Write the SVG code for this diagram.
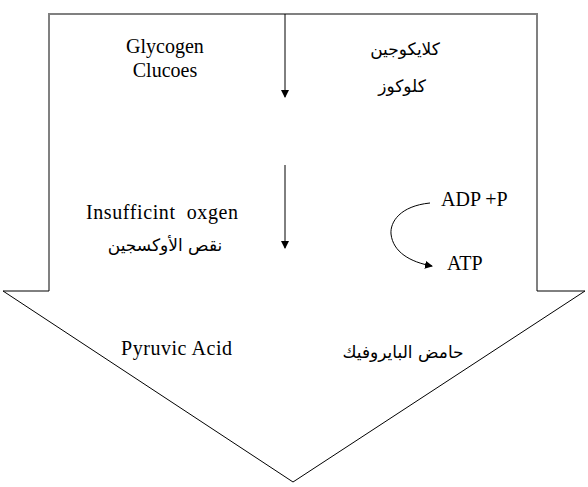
<svg xmlns="http://www.w3.org/2000/svg" width="588" height="487" viewBox="0 0 588 487">
<defs>
<marker id="ah" markerWidth="8" markerHeight="8" refX="7" refY="4" orient="auto" markerUnits="userSpaceOnUse"><path d="M0,0 L8,4 L0,8 z" fill="#000"/></marker>
<style>
.en{font-family:'Liberation Serif','DejaVu Serif','Times New Roman',serif;font-size:20px;fill:#000}
.ar{font-family:'DejaVu Sans','Liberation Sans',sans-serif;font-size:17px;fill:#000}
.ln{stroke:#000;stroke-width:1;fill:none}
</style>
</defs>
<rect width="588" height="487" fill="#fff"/>
<g id="big-arrow">
<path d="M49,291 L49,14 L537,14 L537,291" fill="none" stroke="#808080" stroke-width="2"/>
<path d="M49,291 L3,291 L293,482 L585,291 L537,291" fill="none" stroke="#000" stroke-width="1"/>
</g>
<g id="connectors">
<line class="ln" x1="285" y1="14" x2="285" y2="97" marker-end="url(#ah)"/>
<line class="ln" x1="285" y1="165" x2="285" y2="248" marker-end="url(#ah)"/>
<path class="ln" d="M430,203 C400,206 390,222 391,234 C393,252 410,262 432,266" marker-end="url(#ah)"/>
</g>
<g id="glycogen">
<text class="en" x="165" y="53" text-anchor="middle">Glycogen</text>
<text class="en" x="165" y="77" text-anchor="middle">Clucoes</text>
</g>
<g id="glycogen-ar">
<text class="ar" x="405" y="55" text-anchor="middle" direction="rtl">كلايكوجين</text>
<text class="ar" x="402" y="92" text-anchor="middle" direction="rtl">كلوكوز</text>
</g>
<g id="oxygen">
<text class="en" x="86" y="219" textLength="152" xml:space="preserve">Insufficint  oxgen</text>
<text class="ar" x="165" y="251" text-anchor="middle" direction="rtl">نقص الأوكسجين</text>
</g>
<g id="adp">
<text class="en" x="441" y="206">ADP +P</text>
</g>
<g id="atp">
<text class="en" x="447" y="270">ATP</text>
</g>
<g id="pyruvic">
<text class="en" x="121" y="355" textLength="111">Pyruvic Acid</text>
<text class="ar" x="403" y="358" text-anchor="middle" direction="rtl">حامض البايروفيك</text>
</g>
</svg>
